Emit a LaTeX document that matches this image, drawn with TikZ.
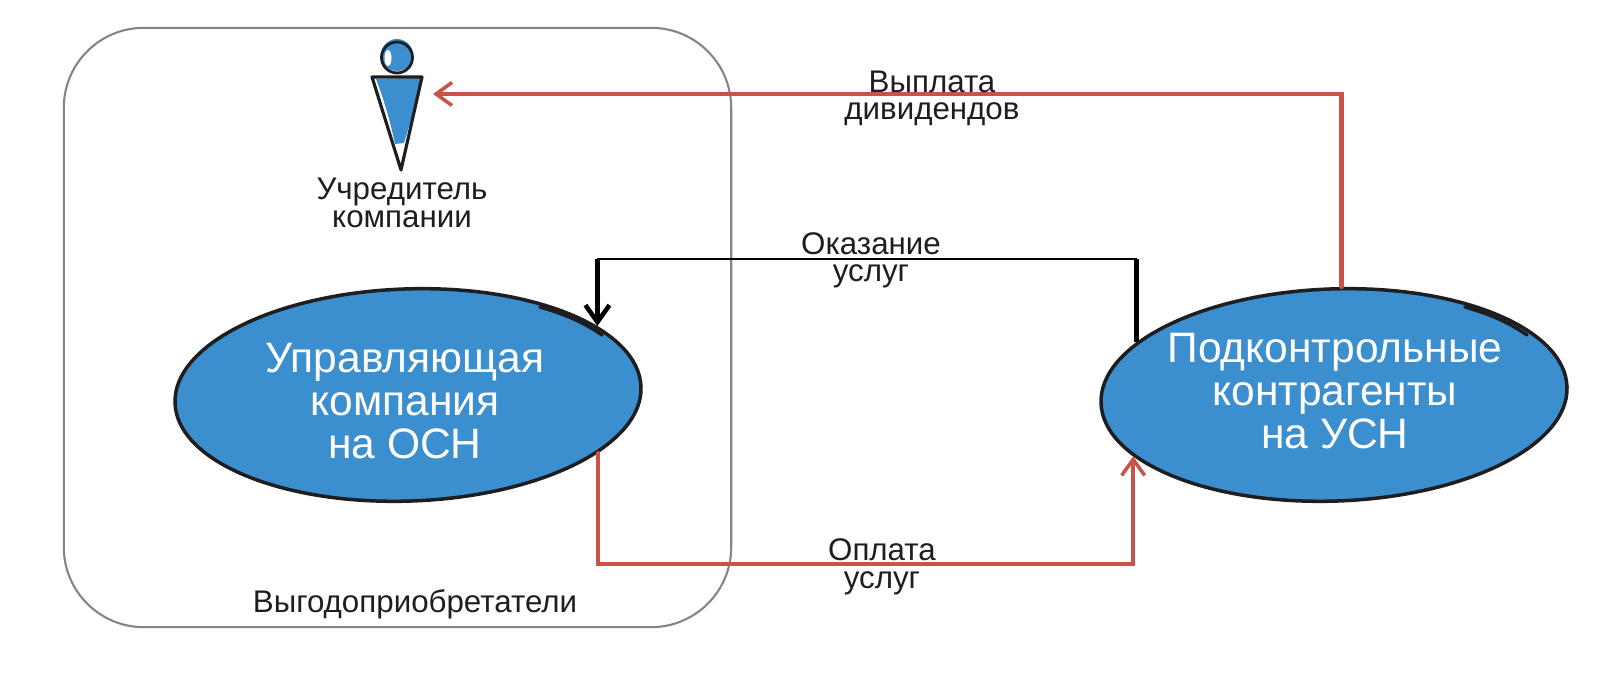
\documentclass[tikz,border=0pt]{standalone}
\usepackage{fontspec}
\setmainfont{Liberation Sans}
\usepackage{xcolor}
\usepackage{tikz}
\usetikzlibrary{shapes.geometric, arrows.meta}

\definecolor{blobblue}{HTML}{3B8FCE}
\definecolor{payred}{HTML}{C9524A}
\definecolor{framegray}{HTML}{858588}
\definecolor{inkblack}{HTML}{1E1E20}

\tikzset{
  blob/.style={ellipse, draw=inkblack, fill=blobblue, line width=1pt, inner sep=0pt,
    minimum width=4.66cm, minimum height=2.12cm, rotate=2},
  blobtext/.style={align=center, text=white, font=\fontsize{12.1}{12.2}\selectfont},
  smalltext/.style={align=center, text=inkblack, font=\fontsize{8.9}{7.8}\selectfont},
  payline/.style={draw=payred, line width=1.2pt, line cap=round},
  serviceline/.style={draw=black, line width=1.2pt},
  barb/.style={-{Straight Barb[length=1.6mm,width=2.3mm,line width=1pt]}},
}

\begin{document}
\begin{tikzpicture}[x=0.01cm,y=-0.01cm]
        \useasboundingbox (0,0) rectangle (1600,683);

        % Frame
        \node[draw=framegray, line width=0.6pt, rounded corners=0.8cm, minimum width=6.67cm, minimum height=5.99cm, inner sep=0pt] (frame) at (397.5,327.5) {};
        \node[smalltext] (frametext) at (415,604) {Выгодоприобретатели};

        % Ovals
        \node[blob] (company) at (408,395) {};
        \node[blob] (contr) at (1334,395) {};
        \node[blobtext] (companytext) at (405,401) {Управляющая\\компания\\на ОСН};
        \node[blobtext] (contrtext) at (1335,391) {Подконтрольные\\контрагенты\\на УСН};

        % Pen strokes on the ovals
        \foreach \name/\x in {company/0,contr/925} {
          \draw[inkblack, line width=1pt, line cap=round] (540+\x,307) .. controls (565+\x,314) and (585+\x,323) .. (602+\x,335);
        }

        % Founder figure
        \fill[blobblue] (397,55) circle (16);
        \fill[white] (388,58) ellipse (3.5 and 8);
        \draw[inkblack, line width=0.8pt] (397,57.5) circle (15.5);
        \fill[blobblue] (376,79) -- (421,78) .. controls (423,90) and (417,92) .. (414,110) -- (404,143) -- (395,144) .. controls (390,120) and (384,100) .. cycle;
        \draw[inkblack, line width=0.9pt, line join=round] (372,77) -- (422,77) -- (401,170) -- cycle;
        \coordinate (founder) at (433,94);
        \node[smalltext] (foundertext) at (402,203) {Учредитель\\компании};

        % Dividends
        \draw[payline, barb] (contr.84.5) |- (founder);
        \node[smalltext] (divtext) at (932,98.5) {Выплата\\дивидендов};

        % Services
        \coordinate (servright) at (contr.163.5 |- 0,259);
        \coordinate (servleft) at (company.18.5 |- 0,259);
        \draw[serviceline] (contr.163.5) -- (servright);
        \draw[draw=black, line width=0.6pt] (servright) -- (servleft);
        \draw[serviceline, -{Straight Barb[length=1.7mm,width=2.4mm,line width=1.3pt]}] (servleft) -- (company.18.5);
        \node[smalltext] (servtext) at (871,260.5) {Оказание\\услуг};

        % Payment
        \coordinate (payleft) at (company.-19.5 |- 0,564);
        \coordinate (payright) at (contr.195.8 |- 0,564);
        \draw[payline, barb] (company.-19.5) -- (payleft) -- (payright) -- (contr.195.8);
        \node[smalltext] (paytext) at (882,567) {Оплата\\услуг};
      \end{tikzpicture}
\end{document}
